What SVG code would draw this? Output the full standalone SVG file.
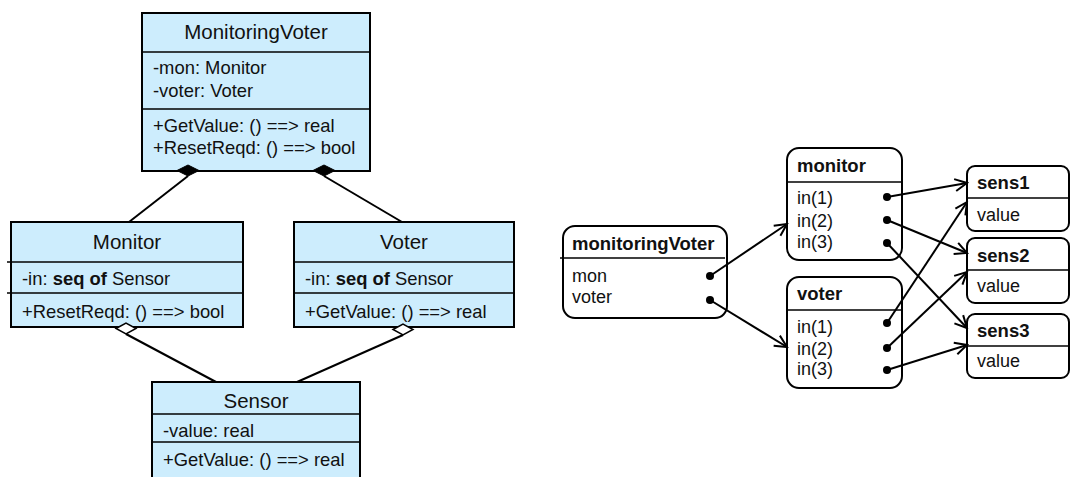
<svg xmlns="http://www.w3.org/2000/svg" width="1071" height="477" viewBox="0 0 1071 477">
  <style>
    .cls { fill: #CDEDFD; stroke: #000; stroke-width: 2; }
    .sep { stroke: #000; stroke-width: 1.5; fill: none; }
    .obj { fill: #fff; stroke: #000; stroke-width: 2; }
    .title { font-family: "Liberation Sans", Arial, sans-serif; font-size: 20.5px; fill: #111; text-anchor: middle; }
    .mem { font-family: "Liberation Sans", Arial, sans-serif; font-size: 18.4px; fill: #111; }
    .oname { font-family: "Liberation Sans", Arial, sans-serif; font-size: 18.5px; font-weight: bold; fill: #111; }
    .oval { font-family: "Liberation Sans", Arial, sans-serif; font-size: 18px; fill: #111; }
    .link { stroke: #000; stroke-width: 2; fill: none; }
    .dot { fill: #000; }
  </style>
  <defs>
    <marker id="open-arrow" viewBox="-14 -8 16 16" refX="0" refY="0" markerWidth="16" markerHeight="16" markerUnits="userSpaceOnUse" orient="auto">
      <path d="M-12,-6 L0,0 L-12,6" fill="none" stroke="#000" stroke-width="2"/>
    </marker>
  </defs>

  <!-- class diagram -->
  <g id="cls-MonitoringVoter">
    <rect class="cls" x="142" y="13" width="228" height="158"/>
    <line class="sep" x1="142" y1="52" x2="370" y2="52"/>
    <line class="sep" x1="142" y1="109" x2="370" y2="109"/>
    <text class="title" x="256" y="39">MonitoringVoter</text>
    <text class="mem" x="153" y="74">-mon: Monitor</text>
    <text class="mem" x="153" y="97">-voter: Voter</text>
    <text class="mem" x="153" y="132">+GetValue: () ==&gt; real</text>
    <text class="mem" x="153" y="154">+ResetReqd: () ==&gt; bool</text>
  </g>

  <g id="cls-Monitor">
    <rect class="cls" x="11" y="222" width="232" height="105"/>
    <line class="sep" x1="7" y1="262" x2="243" y2="262"/>
    <line class="sep" x1="7" y1="293" x2="243" y2="293"/>
    <text class="title" x="127" y="249">Monitor</text>
    <text class="mem" x="22" y="285">-in: <tspan font-weight="bold">seq of</tspan> Sensor</text>
    <text class="mem" x="22" y="318">+ResetReqd: () ==&gt; bool</text>
  </g>

  <g id="cls-Voter">
    <rect class="cls" x="294" y="222" width="220" height="105"/>
    <line class="sep" x1="294" y1="262" x2="514" y2="262"/>
    <line class="sep" x1="294" y1="293" x2="514" y2="293"/>
    <text class="title" x="404" y="249">Voter</text>
    <text class="mem" x="305" y="285">-in: <tspan font-weight="bold">seq of</tspan> Sensor</text>
    <text class="mem" x="305" y="318">+GetValue: () ==&gt; real</text>
  </g>

  <g id="cls-Sensor">
    <rect class="cls" x="152" y="382" width="208" height="110"/>
    <line class="sep" x1="152" y1="414" x2="360" y2="414"/>
    <line class="sep" x1="152" y1="442" x2="360" y2="442"/>
    <text class="title" x="256" y="408">Sensor</text>
    <text class="mem" x="163" y="437">-value: real</text>
    <text class="mem" x="163" y="466">+GetValue: () ==&gt; real</text>
  </g>

  <g id="cls-associations">
    <!-- composition -->
    <line class="link" x1="188" y1="176" x2="129" y2="222"/>
    <path d="M177,170.5 L188,165 L199,170.5 L188,176 Z" fill="#000" stroke="#000" stroke-width="1"/>
    <line class="link" x1="324" y1="176" x2="402" y2="222"/>
    <path d="M313,170.5 L324,165 L335,170.5 L324,176 Z" fill="#000" stroke="#000" stroke-width="1"/>
    <!-- aggregation -->
    <line class="link" x1="126" y1="334" x2="216" y2="382"/>
    <path d="M116,328.5 L126,323 L136,328.5 L126,334 Z" fill="#fff" stroke="#000" stroke-width="1.5"/>
    <line class="link" x1="403" y1="335" x2="297" y2="382"/>
    <path d="M393,329.5 L403,324 L413,329.5 L403,335 Z" fill="#fff" stroke="#000" stroke-width="1.5"/>
  </g>

  <!-- object diagram -->
  <g id="obj-monitoringVoter">
    <rect class="obj" x="563" y="226" width="164" height="92" rx="12"/>
    <line class="sep" x1="560" y1="258" x2="725" y2="258"/>
    <text class="oname" x="572" y="250">monitoringVoter</text>
    <text class="oval" x="572" y="282">mon</text>
    <text class="oval" x="572" y="303">voter</text>
  </g>

  <g id="obj-monitor">
    <rect class="obj" x="787" y="148" width="115" height="112" rx="12"/>
    <line class="sep" x1="787" y1="182" x2="902" y2="182"/>
    <text class="oname" x="797" y="172">monitor</text>
    <text class="oval" x="797" y="204">in(1)</text>
    <text class="oval" x="797" y="227">in(2)</text>
    <text class="oval" x="797" y="248">in(3)</text>
  </g>

  <g id="obj-voter">
    <rect class="obj" x="787" y="277" width="115" height="111" rx="12"/>
    <line class="sep" x1="787" y1="310" x2="902" y2="310"/>
    <text class="oname" x="797" y="300">voter</text>
    <text class="oval" x="797" y="333">in(1)</text>
    <text class="oval" x="797" y="355">in(2)</text>
    <text class="oval" x="797" y="375">in(3)</text>
  </g>

  <g id="obj-sens1">
    <rect class="obj" x="967" y="166" width="102" height="65" rx="8"/>
    <line class="sep" x1="967" y1="198" x2="1069" y2="198"/>
    <text class="oname" x="977" y="189">sens1</text>
    <text class="oval" x="977" y="221">value</text>
  </g>

  <g id="obj-sens2">
    <rect class="obj" x="967" y="238" width="102" height="65" rx="8"/>
    <line class="sep" x1="967" y1="270" x2="1069" y2="270"/>
    <text class="oname" x="977" y="262">sens2</text>
    <text class="oval" x="977" y="292">value</text>
  </g>

  <g id="obj-sens3">
    <rect class="obj" x="967" y="314" width="102" height="64" rx="8"/>
    <line class="sep" x1="967" y1="346" x2="1069" y2="346"/>
    <text class="oname" x="977" y="337">sens3</text>
    <text class="oval" x="977" y="367">value</text>
  </g>

  <g id="obj-links">
    <line class="link" x1="710" y1="276" x2="787" y2="224" marker-end="url(#open-arrow)"/>
    <line class="link" x1="710" y1="300" x2="787" y2="347" marker-end="url(#open-arrow)"/>
    <line class="link" x1="887" y1="197" x2="967" y2="183" marker-end="url(#open-arrow)"/>
    <line class="link" x1="887" y1="220" x2="967" y2="253" marker-end="url(#open-arrow)"/>
    <line class="link" x1="887" y1="243" x2="967" y2="328" marker-end="url(#open-arrow)"/>
    <line class="link" x1="887" y1="323" x2="967" y2="202" marker-end="url(#open-arrow)"/>
    <line class="link" x1="887" y1="348" x2="967" y2="272" marker-end="url(#open-arrow)"/>
    <line class="link" x1="887" y1="370" x2="967" y2="345" marker-end="url(#open-arrow)"/>
    <circle class="dot" cx="710" cy="276" r="4"/>
    <circle class="dot" cx="710" cy="300" r="4"/>
    <circle class="dot" cx="887" cy="197" r="4"/>
    <circle class="dot" cx="887" cy="220" r="4"/>
    <circle class="dot" cx="887" cy="243" r="4"/>
    <circle class="dot" cx="887" cy="323" r="4"/>
    <circle class="dot" cx="887" cy="348" r="4"/>
    <circle class="dot" cx="887" cy="370" r="4"/>
  </g>
</svg>
